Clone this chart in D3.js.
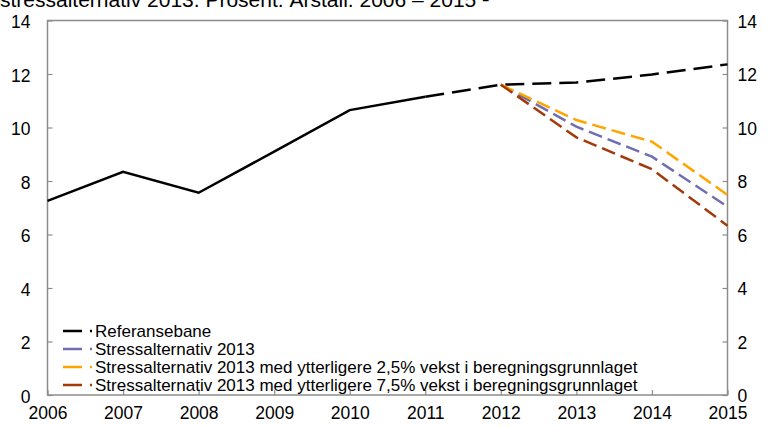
<!DOCTYPE html>
<html>
<head>
<meta charset="utf-8">
<script src="https://cdn.jsdelivr.net/npm/d3@7"></script>
<style>
  body { margin: 0; background: #fff; }
  svg text { font-family: "Liberation Sans", Arial, sans-serif; fill: #000; }
</style>
</head>
<body>
<div id="chart"></div>
<script>
// data
var years = [2006, 2007, 2008, 2009, 2010, 2011, 2012, 2013, 2014, 2015];
var yTicks = [0, 2, 4, 6, 8, 10, 12, 14];

var historyYears = [2006, 2007, 2008, 2009, 2010, 2011];
var historyValues = [7.26, 8.34, 7.56, 9.1, 10.65, 11.15];

var projYears = [2011, 2012, 2013, 2014, 2015];
var referansebane = [11.15, 11.6, 11.68, 11.98, 12.36];

var stressYears = [2012, 2013, 2014, 2015];
var stress2013 = [11.6, 10.03, 8.91, 7.04];
var stress25 = [11.6, 10.28, 9.47, 7.48];
var stress75 = [11.6, 9.63, 8.44, 6.33];

var legendLabels = [
  "Referansebane",
  "Stressalternativ 2013",
  "Stressalternativ 2013 med ytterligere 2,5% vekst i beregningsgrunnlaget",
  "Stressalternativ 2013 med ytterligere 7,5% vekst i beregningsgrunnlaget"
];
var legendColors = ["#000000", "#6f6fae", "#ffa500", "#a33a0a"];

var titleText = "stressalternativ 2013. Prosent. Årstall. 2006 – 2015 \u00b9\u207e";

// layout
var W = 768, H = 427;
var margin = {top: 20.5, right: 40.5, bottom: 32, left: 47.5},
    width = W - margin.left - margin.right,
    height = H - margin.top - margin.bottom;

var svg = d3.select("#chart").append("svg")
    .attr("width", W)
    .attr("height", H);

// title, cut at the top edge like the source image
svg.append("text")
    .attr("x", 0)
    .attr("y", 7)
    .style("font-size", "21px")
    .text(titleText);

var g = svg.append("g")
    .attr("transform", "translate(" + margin.left + "," + margin.top + ")");

var x = d3.scaleLinear().domain([2006, 2015]).range([0, width]);
var y = d3.scaleLinear().domain([0, 14]).range([height, 0]);

var axisColor = "#8c8c8c";

// frame
g.append("rect")
    .attr("x", 0).attr("y", 0)
    .attr("width", width).attr("height", height)
    .attr("fill", "none")
    .attr("stroke", axisColor)
    .attr("stroke-width", 1.5);

// axes (ticks point inward)
var left = g.append("g")
    .call(d3.axisLeft(y).tickValues(yTicks).tickSize(-5).tickPadding(17));
var right = g.append("g")
    .attr("transform", "translate(" + width + ",0)")
    .call(d3.axisRight(y).tickValues(yTicks).tickSize(-5).tickPadding(10));
var bottom = g.append("g")
    .attr("transform", "translate(0," + height + ")")
    .call(d3.axisBottom(x).tickValues(years).tickSize(-5).tickPadding(12)
      .tickFormat(d3.format("d")));

[left, right, bottom].forEach(function(a) {
  a.select(".domain").remove();
  a.selectAll("line").attr("stroke", axisColor).attr("stroke-width", 1.2);
  a.selectAll("text").style("font-size", "17.5px").attr("fill", "#000");
});
left.selectAll("text").attr("dy", "0.4em");
right.selectAll("text").attr("dy", "0.38em");
bottom.selectAll("text").attr("dy", "0.71em");

var line = d3.line()
    .x(function(d) { return x(d[0]); })
    .y(function(d) { return y(d[1]); });

function pairs(xs, ys) {
  return xs.map(function(v, i) { return [v, ys[i]]; });
}

// history, solid
g.append("path")
    .attr("d", line(pairs(historyYears, historyValues)))
    .attr("fill", "none")
    .attr("stroke", "#000")
    .attr("stroke-width", 2.5);

// referansebane, dashed
g.append("path")
    .attr("d", line(pairs(projYears, referansebane)))
    .attr("fill", "none")
    .attr("stroke", "#000")
    .attr("stroke-width", 2.5)
    .attr("stroke-dasharray", "19,8");

var stressSeries = [stress2013, stress25, stress75];
stressSeries.forEach(function(s, i) {
  g.append("path")
      .attr("d", line(pairs(stressYears, s)))
      .attr("fill", "none")
      .attr("stroke", legendColors[i + 1])
      .attr("stroke-width", 2.5)
      .attr("stroke-dasharray", "14,6");
});

// legend
var legend = svg.append("g");
legendLabels.forEach(function(lab, i) {
  var ly = 331 + i * 18;
  legend.append("line")
      .attr("x1", 63).attr("x2", 93)
      .attr("y1", ly).attr("y2", ly)
      .attr("stroke", legendColors[i])
      .attr("stroke-width", 2.5)
      .attr("stroke-dasharray", "19,8,2,20");
  legend.append("text")
      .attr("x", 95)
      .attr("y", ly)
      .attr("dy", "0.35em")
      .style("font-size", "17px")
      .text(lab);
});
</script>
</body>
</html>
